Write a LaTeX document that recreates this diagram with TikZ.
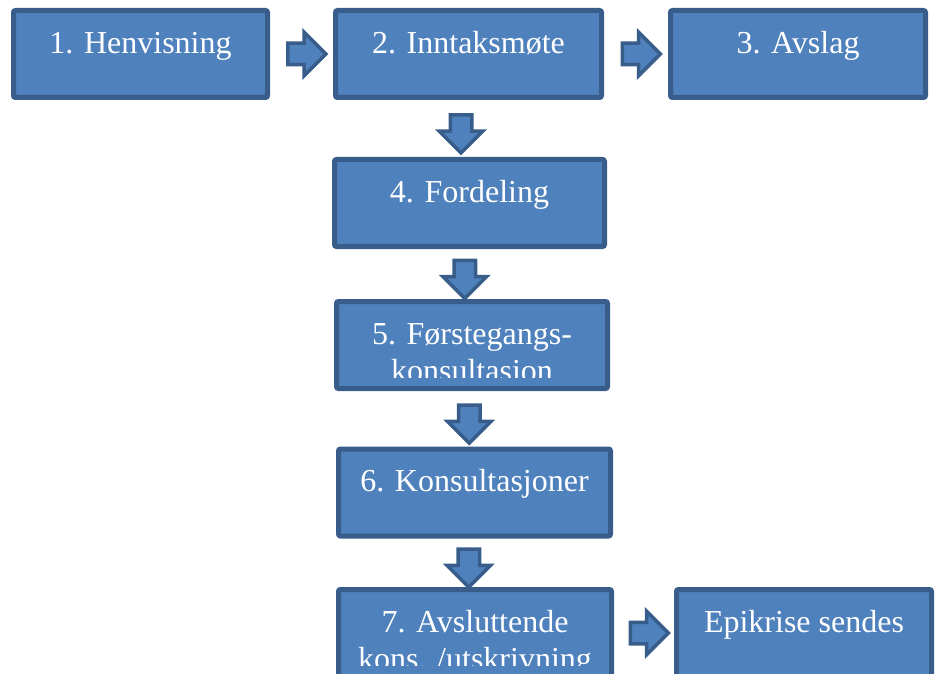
\documentclass[tikz,border=0pt]{standalone}
\usepackage{fontspec}
\setmainfont{Liberation Serif}
\usetikzlibrary{shapes.arrows,calc}

\definecolor{boxfill}{HTML}{4F81BD}
\definecolor{boxline}{HTML}{385D8A}

\tikzset{
  stepbox/.style={draw=boxline, fill=boxfill, line width=5pt, rounded corners=2pt,
    minimum width=#1, minimum height=87pt, inner sep=0pt},
  boxtext/.style={text=white, font=\rmfamily\fontsize{32}{37}\selectfont, align=center,
    inner sep=0pt, anchor=north},
  rightarrow/.style={single arrow, draw=boxline, fill=boxfill, line width=3.5pt,
    single arrow tip angle=90, single arrow head extend=11pt,
    minimum height=38pt, inner xsep=0pt, inner ysep=9pt},
  downarrow/.style={rightarrow, shape border rotate=270, inner xsep=9pt, inner ysep=0pt},
}

\begin{document}
\begin{tikzpicture}[x=1pt,y=-1pt]
  \useasboundingbox (0,0) rectangle (938,674);

  % the steps
  \foreach \id/\pos/\w/\txt in {
    b1/{140.5,54}/254/{1. Henvisning},
    b2/{468.5,54}/266/{2. Inntaksmøte},
    b3/{798,54}/255/{3. Avslag},
    b4/{469.5,203}/270/{4. Fordeling},
    b5/{472,345}/271/{5. Førstegangs-\\konsultasion},
    b6/{474.5,492.5}/272/{6. Konsultasjoner},
    b7/{475,633}/273/{7. Avsluttende\\kons. /utskrivning},
    b8/{804,633}/255/{Epikrise sendes}} {
   \node[stepbox=\w pt] (\id) at (\pos) {};
   \begin{scope}
    \clip (\id.north west) rectangle ([yshift=14pt]\id.south east);
    \node[boxtext] (t\id) at ([yshift=-21pt]\id.north) {\rule{0pt}{24pt}\txt};
   \end{scope}
  }

  % arrows between them
  \node[rightarrow] (a12) at ($(b1.east)!0.5!(b2.west)$) {};
  \node[rightarrow] (a23) at ($(b2.east)!0.5!(b3.west)$) {};
  \node[rightarrow] (a78) at ($(b7.east)!0.5!(b8.west)$) {};
  \foreach \from/\to/\dx in {b2/b4/-8, b4/b5/-6, b5/b6/-4, b6/b7/-6} {
   \node[downarrow] (a\from\to) at ($(\from.south)!0.5!(\to.north)+(\dx,0)$) {};
  }
\end{tikzpicture}
\end{document}
